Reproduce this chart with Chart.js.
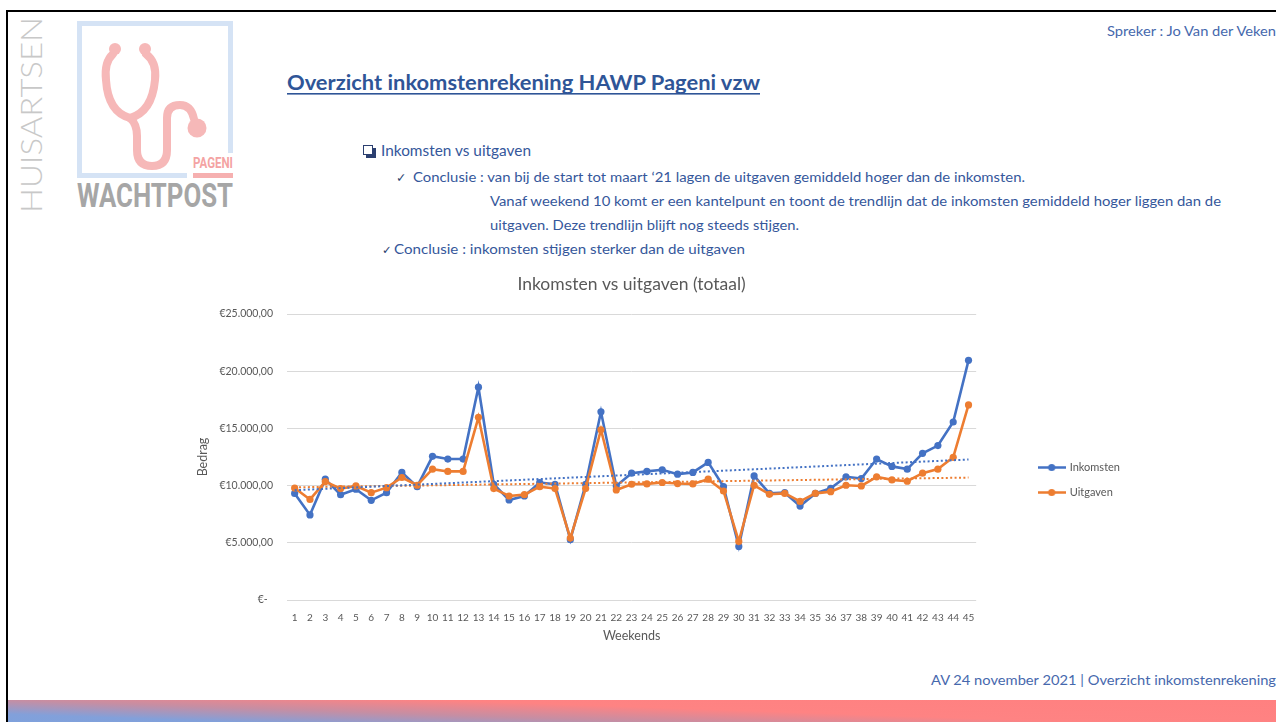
<!DOCTYPE html>
<html>
<head>
<meta charset="utf-8">
<script src="https://cdn.jsdelivr.net/npm/chart.js@4.4.1/dist/chart.umd.min.js"></script>
<style>
  html, body { margin:0; padding:0; background:#fff; }
  body { width:1276px; height:722px; position:relative; overflow:hidden; }
  #slide { position:absolute; left:0; top:0; }
  #chartBox { position:absolute; left:150px; top:262px; width:980px; height:382px; }
</style>
</head>
<body>
<svg id="slide" width="1276" height="722" xmlns="http://www.w3.org/2000/svg">
  <defs>
    <linearGradient id="barGrad" gradientUnits="userSpaceOnUse" x1="8" y1="722" x2="10.25" y2="656.5">
      <stop offset="0" stop-color="#7fa1dc"/>
      <stop offset="0.12" stop-color="#82a0da"/>
      <stop offset="0.335" stop-color="#c68ea3"/>
      <stop offset="0.56" stop-color="#fe8383"/>
      <stop offset="1" stop-color="#ff8080"/>
    </linearGradient>
  </defs>
  <!-- slide frame -->
  <rect x="6" y="10" width="1270" height="2" fill="#000"/>
  <rect x="6" y="10" width="2" height="712" fill="#000"/>
  <rect x="8" y="700" width="1268" height="22" fill="url(#barGrad)"/>

  <!-- logo -->
  <path d="M187,175.5 H79.5 V23.5 H230.5 V153" stroke="#d5e3f5" stroke-width="5" fill="none"/>
  <g stroke="#f6b8b8" stroke-width="8" fill="none" stroke-linecap="round">
    <path d="M113,54 Q104,62 106,80 Q108,112 130,118"/>
    <path d="M146,54 Q157,62 155,80 Q152,112 130,118"/>
    <path d="M130,118 Q137,124 137,136 L137,150 Q137,166 152,166 Q167,166 167,150 L167,118 Q167,105 180,105 Q191,105 194,119"/>
  </g>
  <circle cx="115" cy="49" r="6" fill="#f6b8b8"/>
  <circle cx="145" cy="49" r="6" fill="#f6b8b8"/>
  <circle cx="197" cy="128" r="9.5" fill="#f6b8b8"/>
  <text x="193" y="168" textLength="40" lengthAdjust="spacingAndGlyphs" font-family="Roboto, sans-serif" font-weight="bold" font-size="15" fill="#f4a3a3">PAGENI</text>
  <rect x="193" y="173" width="40" height="5" fill="#f6b0b0"/>
  <text x="77" y="207" textLength="156" lengthAdjust="spacingAndGlyphs" font-family="Roboto, sans-serif" font-weight="bold" font-size="33" fill="#a6a6a6">WACHTPOST</text>
  <text transform="translate(42,213) rotate(-90)" x="0" y="0" textLength="196" lengthAdjust="spacingAndGlyphs" font-family="Lato, sans-serif" font-weight="300" font-size="30" fill="#c8c8c8">HUISARTSEN</text>

  <!-- header -->
  <text x="1107" y="36" textLength="169" lengthAdjust="spacingAndGlyphs" font-family="Lato, sans-serif" font-size="13" fill="#4668ad">Spreker : Jo Van der Veken</text>
  <text x="287" y="90" textLength="473" lengthAdjust="spacingAndGlyphs" font-family="Lato, sans-serif" font-weight="bold" font-size="20" fill="#2f5597">Overzicht inkomstenrekening HAWP Pageni vzw</text>
  <rect x="287" y="93" width="473" height="1.6" fill="#2f5597"/>

  <!-- bullet list -->
  <rect x="366" y="148" width="10" height="10" fill="#2b3f70"/>
  <rect x="363.5" y="145.5" width="9" height="9" fill="#fff" stroke="#2b3f70" stroke-width="1"/>
  <text x="381" y="156" textLength="150" lengthAdjust="spacingAndGlyphs" font-family="Lato, sans-serif" font-size="15" fill="#35579b">Inkomsten vs uitgaven</text>
  <text x="396" y="182" font-family="DejaVu Sans, sans-serif" font-size="12.5" fill="#2b3f70">✓</text>
  <text x="413" y="182" textLength="612" lengthAdjust="spacingAndGlyphs" font-family="Lato, sans-serif" font-size="13.5" fill="#35579b">Conclusie : van bij de start tot maart ‘21 lagen de uitgaven gemiddeld hoger dan de inkomsten.</text>
  <text x="490" y="206" textLength="731" lengthAdjust="spacingAndGlyphs" font-family="Lato, sans-serif" font-size="13.5" fill="#35579b">Vanaf weekend 10 komt er een kantelpunt en toont de trendlijn dat de inkomsten gemiddeld hoger liggen dan de</text>
  <text x="490" y="230" textLength="309" lengthAdjust="spacingAndGlyphs" font-family="Lato, sans-serif" font-size="13.5" fill="#35579b">uitgaven. Deze trendlijn blijft nog steeds stijgen.</text>
  <text x="382" y="254" font-family="DejaVu Sans, sans-serif" font-size="11.5" fill="#2b3f70">✓</text>
  <text x="394" y="254" textLength="351" lengthAdjust="spacingAndGlyphs" font-family="Lato, sans-serif" font-size="13.5" fill="#35579b">Conclusie : inkomsten stijgen sterker dan de uitgaven</text>

  <!-- footer -->
  <text x="931" y="685" textLength="345" lengthAdjust="spacingAndGlyphs" font-family="Lato, sans-serif" font-size="14" fill="#4668ad">AV 24 november 2021 | Overzicht inkomstenrekening</text>
</svg>

<div id="chartBox"><canvas id="chart" width="980" height="382"></canvas></div>

<script>
// ---- data ----
const weekLabels = ['1','2','3','4','5','6','7','8','9','10','11','12','13','14','15','16','17','18','19','20','21','22','23','24','25','26','27','28','29','30','31','32','33','34','35','36','37','38','39','40','41','42','43','44','45'];

const inkomsten = [9320, 7440, 10560, 9210, 9680, 8710, 9380, 11150, 9910, 12560, 12320, 12320, 18600, 10120, 8740, 9090, 10270, 10120, 5270, 10120, 16450, 9970, 11090, 11240, 11380, 11000, 11150, 12030, 9910, 4680, 10850, 9320, 9380, 8210, 9320, 9770, 10770, 10620, 12320, 11680, 11440, 12820, 13500, 15560, 20950];

const uitgaven = [9790, 8790, 10350, 9740, 9970, 9380, 9820, 10710, 10030, 11440, 11240, 11240, 15970, 9740, 9090, 9210, 9910, 9740, 5410, 9740, 14880, 9620, 10120, 10150, 10270, 10180, 10150, 10560, 9530, 5120, 10030, 9240, 9320, 8620, 9320, 9470, 10030, 9970, 10770, 10500, 10380, 11090, 11440, 12470, 17050];

// linear trendlines: value at the first and the last weekend
const inkomstenTrend = [9600, 12280];
const uitgavenTrend = [9850, 10700];

const yTickValues = [0, 5000, 10000, 15000, 20000, 25000];

const seriesNames = ['Inkomsten', 'Uitgaven'];
const blue = '#4472c4';
const orange = '#ed7d31';

// ---- helpers ----
function trendData(ends) {
  return weekLabels.map((_, i) => i === 0 ? ends[0] : (i === weekLabels.length - 1 ? ends[1] : null));
}
function euro(v) {
  if (v === 0) return '€-  ';
  const s = Math.round(v).toString().replace(/\B(?=(\d{3})+(?!\d))/g, '.');
  return '€' + s + ',00';
}
function marker(color) {
  const c = document.createElement('canvas');
  c.width = 28; c.height = 9;
  const g = c.getContext('2d');
  g.strokeStyle = color; g.lineWidth = 2.5;
  g.beginPath(); g.moveTo(0, 4.5); g.lineTo(28, 4.5); g.stroke();
  g.fillStyle = color;
  g.beginPath(); g.arc(14, 4.5, 3.6, 0, Math.PI * 2); g.fill();
  return c;
}

Chart.defaults.font.family = 'Lato, "Open Sans", sans-serif';
Chart.defaults.color = '#595959';

const lineStyle = (color) => ({
  borderColor: color, backgroundColor: color,
  borderWidth: 2.6, pointRadius: 3.6, pointHoverRadius: 3.6, pointStyle: 'circle',
  pointBackgroundColor: color, pointBorderWidth: 0, tension: 0, fill: false
});

new Chart(document.getElementById('chart'), {
  type: 'line',
  data: {
    labels: weekLabels,
    datasets: [
      Object.assign({ label: seriesNames[0], data: inkomsten, order: 3 }, lineStyle(blue)),
      Object.assign({ label: seriesNames[1], data: uitgaven, order: 2 }, lineStyle(orange)),
      { label: 'trend ' + seriesNames[0], data: trendData(inkomstenTrend), order: 1, spanGaps: true,
        borderColor: blue, borderWidth: 2, borderDash: [2, 2.4], pointRadius: 0, fill: false },
      { label: 'trend ' + seriesNames[1], data: trendData(uitgavenTrend), order: 1, spanGaps: true,
        borderColor: orange, borderWidth: 2, borderDash: [2, 2.4], pointRadius: 0, fill: false }
    ]
  },
  options: {
    responsive: false,
    animation: false,
    devicePixelRatio: 1,
    layout: { padding: { left: 43, right: 0, top: 0, bottom: 0 } },
    plugins: {
      tooltip: { enabled: false },
      title: {
        display: true, text: 'Inkomsten vs uitgaven (totaal)', fullSize: false,
        color: '#595959', font: { size: 17.5, weight: 'normal' },
        padding: { top: 11.5, bottom: 19.5 }
      },
      legend: {
        position: 'right',
        title: { display: true, text: ' ', font: { size: 10 }, padding: { top: 0, bottom: 42 } },
        labels: {
          usePointStyle: true, pointStyleWidth: 25, padding: 14,
          color: '#595959', font: { size: 11 },
          generateLabels: (chart) => chart.data.datasets.slice(0, 2).map((ds, i) => ({
            text: ds.label, datasetIndex: i, hidden: false,
            pointStyle: marker(i === 0 ? blue : orange),
            fillStyle: ds.borderColor, strokeStyle: ds.borderColor, lineWidth: 0, fontColor: '#595959'
          }))
        }
      }
    },
    scales: {
      x: {
        offset: true,
        grid: { display: false, drawTicks: false },
        border: { display: false },
        ticks: { autoSkip: false, maxRotation: 0, minRotation: 0, padding: 12, color: '#595959', font: { size: 10 } },
        title: { display: true, text: 'Weekends', color: '#595959', font: { size: 12.5 }, padding: { top: 0, bottom: 0.5 } },
        afterFit: (axis) => { axis.height = 44; }
      },
      y: {
        min: 0, max: 25000,
        afterBuildTicks: (axis) => { axis.ticks = yTickValues.map(v => ({ value: v })); },
        grid: { color: '#d9d9d9', lineWidth: 1, drawTicks: false },
        border: { display: false },
        ticks: { padding: 14, color: '#595959', font: { size: 10.5 }, callback: (v) => euro(v) },
        title: { display: true, text: 'Bedrag', color: '#595959', font: { size: 12.5 }, padding: { top: 2.5, bottom: 4 } },
        afterFit: (axis) => { axis.width = 94; }
      },
      gap: {
        type: 'linear', position: 'right', display: true,
        grid: { display: false, drawTicks: false }, border: { display: false },
        ticks: { display: false },
        afterFit: (axis) => { axis.width = 49; }
      }
    }
  }
});
</script>
</body>
</html>
